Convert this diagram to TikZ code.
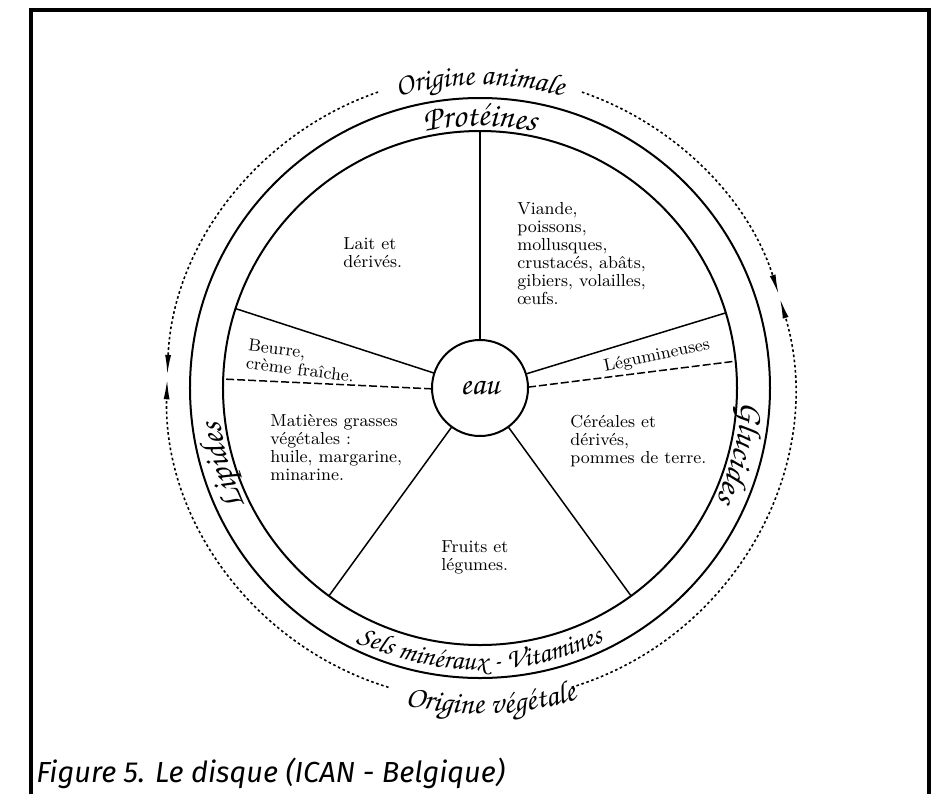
\documentclass[tikz,border=0pt]{standalone}
\usepackage[T1]{fontenc}
\usepackage{fontspec}
\newfontfamily\capfont{Fira Sans}
\usetikzlibrary{arrows.meta,decorations.text}
\newcommand\handfont[1]{\fontencoding{T1}\fontfamily{pzc}\fontseries{mb}\fontshape{it}\fontsize{#1}{#1}\selectfont}
\newcommand\ringfont{\handfont{17}}
\tikzset{
  ring/.style={draw,circle,line width=1pt,inner sep=0pt,outer sep=0pt},
  spoke/.style={line width=0.75pt},
  halfspoke/.style={line width=0.75pt,dash pattern=on 4pt off 1.5pt},
  origarc/.style={line width=0.8pt,dash pattern=on 1.3pt off 1.3pt},
  origtip/.style={-{Latex[length=10pt,width=3pt]}},
  foodtxt/.style={align=left,anchor=west,inner sep=0pt,font=\fontsize{8.7}{9}\selectfont},
  ringtxt/.style={decorate,decoration={text along path,text align=center,text={#1}}}
}

\begin{document}
\begin{tikzpicture}[x=0.5pt,y=0.5pt]
  \useasboundingbox (-480,-406) rectangle (456,388) ;
  \draw[line width=2pt] (-448.5,-406) |- (449,378.5) -- (449,-406) ;
  % the disc
  \node[ring,minimum size=290pt] (outer) at (0,0) {} ;
  \node[ring,minimum size=257pt] (disk) at (0,0) {} ;
  \node[ring,minimum size=48pt,font=\handfont{16}] (eau) at (0,0) {eau} ;
  \foreach \a in {90,162,17,234,306}
    \draw[spoke] (eau.\a) -- (disk.\a) ;
  \draw[halfspoke] (eau.181) -- (disk.178) ;
  \draw[halfspoke] (eau.1) -- (disk.6) ;
  % food groups
  \node[foodtxt] (lait) at (-137,135) {Lait et\\dérivés.} ;
  \node[foodtxt] (viande) at (37,134) {Viande,\\poissons,\\mollusques,\\crustacés, abâts,\\gibiers, volailles,\\œufs.} ;
  \node[foodtxt,rotate=-7] (beurre) at (-233,34) {Beurre,\\crème fraîche.} ;
  \node[foodtxt,anchor=center,rotate=12] (legum) at (177,32) {Légumineuses} ;
  \node[foodtxt] (mgv) at (-210,-60) {Matières grasses\\végétales :\\huile, margarine,\\minarine.} ;
  \node[foodtxt] (cereal) at (90,-53) {Céréales et\\dérivés,\\pommes de terre.} ;
  \node[foodtxt] (fruits) at (-39,-169) {Fruits et\\légumes.} ;
  % nutrients in the ring
  \path[ringtxt={|\ringfont|Protéines}] (110:262) arc[start angle=110,end angle=70,radius=262] ;
  \path[ringtxt={|\ringfont|Glucides}] (16:262) arc[start angle=16,end angle=-44,radius=262] ;
  \path[ringtxt={|\ringfont|Lipides}] (227:262) arc[start angle=227,end angle=167,radius=262] ;
  \path[ringtxt={|\handfont{14}|Sels minéraux - Vitamines}] (225:282) arc[start angle=225,end angle=315,radius=282] ;
  % origin
  \draw[origarc,origtip] (109:313) arc[start angle=109,end angle=177.6,radius=313] ;
  \draw[origarc,origtip] (253:313) arc[start angle=253,end angle=178.4,radius=313] ;
  \draw[origarc,origtip] (71:313) arc[start angle=71,end angle=17.4,radius=313] ;
  \draw[origarc,origtip] (287:313) arc[start angle=287,end angle=376.6,radius=313] ;
  \path[ringtxt={|\handfont{15}|Origine animale}] (120:303) arc[start angle=120,end angle=60,radius=303] ;
  \path[ringtxt={|\handfont{15.5}|Origine végétale}] (252:326) arc[start angle=252,end angle=292,radius=326] ;
  \node[anchor=base west,inner sep=0pt,font=\capfont\itshape\fontsize{14.5}{14.5}\selectfont] (caption) at (-444,-394) {Figure 5. Le disque (ICAN - Belgique)} ;
\end{tikzpicture}
\end{document}
